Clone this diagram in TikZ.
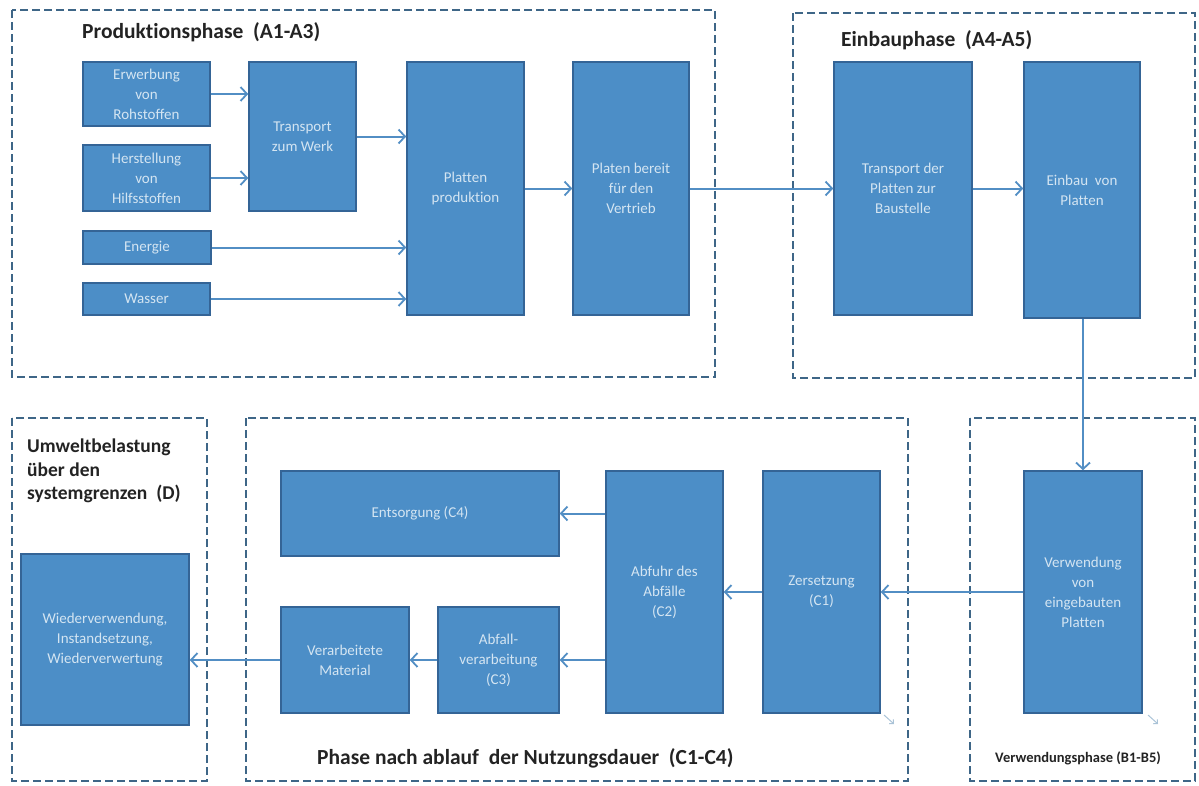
\documentclass[tikz,border=0pt]{standalone}
\usepackage{fontspec}
\setmainfont{Carlito}[Ligatures=NoCommon]
\usetikzlibrary{arrows.meta}
\definecolor{boxfill}{RGB}{76,142,199}
\definecolor{boxdraw}{RGB}{52,100,150}
\definecolor{boxtext}{RGB}{212,229,242}
\definecolor{arr}{RGB}{82,142,196}
\definecolor{frame}{RGB}{62,102,135}
\definecolor{titletext}{RGB}{35,35,35}
\definecolor{handle}{RGB}{170,195,215}
\tikzset{
  blk/.style={draw=boxdraw, fill=boxfill, line width=1.5pt, text=boxtext,
    font=\fontsize{15}{20}\selectfont, align=center, inner sep=2pt},
  frm/.style={draw=frame, line width=2pt, dash pattern=on 8pt off 4pt},
  flow/.style={draw=arr, line width=2pt,
    -{Straight Barb[length=6.5pt,width=14pt,line width=1.8pt]}},
  ttl/.style={font=\fontsize{21.5}{24}\selectfont\bfseries, text=titletext,
    inner sep=0pt, anchor=west},
  hdl/.style={draw=handle, line width=1pt, -{Straight Barb[length=3pt,width=6pt]}}
}
\begin{document}
\begin{tikzpicture}[x=1pt,y=-1pt]
\useasboundingbox (0,0) rectangle (1199,785);
% frames
\draw[frm] (12,10) rectangle (715,377);
\draw[frm] (793,13) rectangle (1195,378);
\draw[frm] (12,418) rectangle (207,781);
\draw[frm] (246,418) rectangle (908,781);
\draw[frm] (970,418) rectangle (1195,781);
% titles
\node[ttl] (t1) at (82,32) {Produktionsphase\ \ (A1-A3)};
\node[ttl] (t2) at (841,40) {Einbauphase\ \ (A4-A5)};
\node[ttl, anchor=north west, align=left, font=\fontsize{19.5}{23.5}\selectfont\bfseries] (t3) at (27,439) {Umweltbelastung\\über den\\systemgrenzen\ \ (D)};
\node[ttl] (t4) at (317,758) {Phase nach ablauf\ \ der Nutzungsdauer\ \ (C1-C4)};
\node[ttl, font=\fontsize{14.5}{16}\selectfont\bfseries] (t5) at (995,758) {Verwendungsphase (B1-B5)};
% top boxes
\node[blk, minimum width=127pt, minimum height=64pt] (erw) at (146.5,94) {Erwerbung\\von\\Rohstoffen};
\node[blk, minimum width=127pt, minimum height=66pt] (her) at (146.5,178) {Herstellung\\von\\Hilfsstoffen};
\node[blk, minimum width=128pt, minimum height=33pt] (ene) at (147,247.5) {Energie};
\node[blk, minimum width=127pt, minimum height=32pt] (was) at (146.5,299) {Wasser};
\node[blk, minimum width=107pt, minimum height=149pt] (trw) at (302.5,136.5) {Transport\\zum Werk};
\node[blk, minimum width=117pt, minimum height=253pt] (pro) at (465.5,188.5) {Platten\\produktion};
\node[blk, minimum width=116pt, minimum height=253pt] (ber) at (631,188.5) {Platen bereit\\für den\\Vertrieb};
\node[blk, minimum width=138pt, minimum height=253pt] (trb) at (903,188.5) {Transport der\\Platten zur\\Baustelle};
\node[blk, minimum width=116pt, minimum height=256pt] (ein) at (1082,190) {Einbau\ \ von\\Platten};
% bottom boxes
\node[blk, minimum width=168pt, minimum height=171pt] (wie) at (105,639.5) {Wiederverwendung,\\Instandsetzung,\\Wiederverwertung};
\node[blk, minimum width=278pt, minimum height=85pt] (ent) at (420,513.5) {Entsorgung (C4)};
\node[blk, minimum width=128pt, minimum height=106pt] (ver) at (345,660) {Verarbeitete\\Material};
\node[blk, minimum width=121pt, minimum height=106pt] (abv) at (498.5,660) {Abfall-\\verarbeitung\\(C3)};
\node[blk, minimum width=117pt, minimum height=242pt] (abf) at (664.5,592) {Abfuhr des\\Abfälle\\(C2)};
\node[blk, minimum width=117pt, minimum height=242pt] (zer) at (821.5,592) {Zersetzung\\(C1)};
\node[blk, minimum width=118pt, minimum height=242pt] (vwd) at (1083,592) {Verwendung\\von\\eingebauten\\Platten};
% top connectors
\draw[flow] (erw.east) -- (erw.east -| trw.west);
\draw[flow] (her.east) -- (her.east -| trw.west);
\draw[flow] (trw.east) -- (trw.east -| pro.west);
\draw[flow] (ene.east) -- (ene.east -| pro.west);
\draw[flow] (was.east) -- (was.east -| pro.west);
\draw[flow] (pro.east) -- (ber.west);
\draw[flow] (ber.east) -- (trb.west);
\draw[flow] (trb.east) -- (trb.east -| ein.west);
\draw[flow] (ein.south -| vwd.north) -- (vwd.north);
% bottom connectors
\draw[flow] (vwd.west) -- (zer.east);
\draw[flow] (zer.west) -- (abf.east);
\draw[flow] (ent.east -| abf.west) -- (ent.east);
\draw[flow] (abv.east -| abf.west) -- (abv.east);
\draw[flow] (abv.west) -- (ver.east);
\draw[flow] (ver.west) -- (ver.west -| wie.east);
% resize handles
\coordinate (h1a) at (884,715); \coordinate (h1b) at (894,724);
\coordinate (h2a) at (1148,715); \coordinate (h2b) at (1158,724);
\draw[hdl] (h1a) -- (h1b);
\draw[hdl] (h2a) -- (h2b);
\end{tikzpicture}
\end{document}
